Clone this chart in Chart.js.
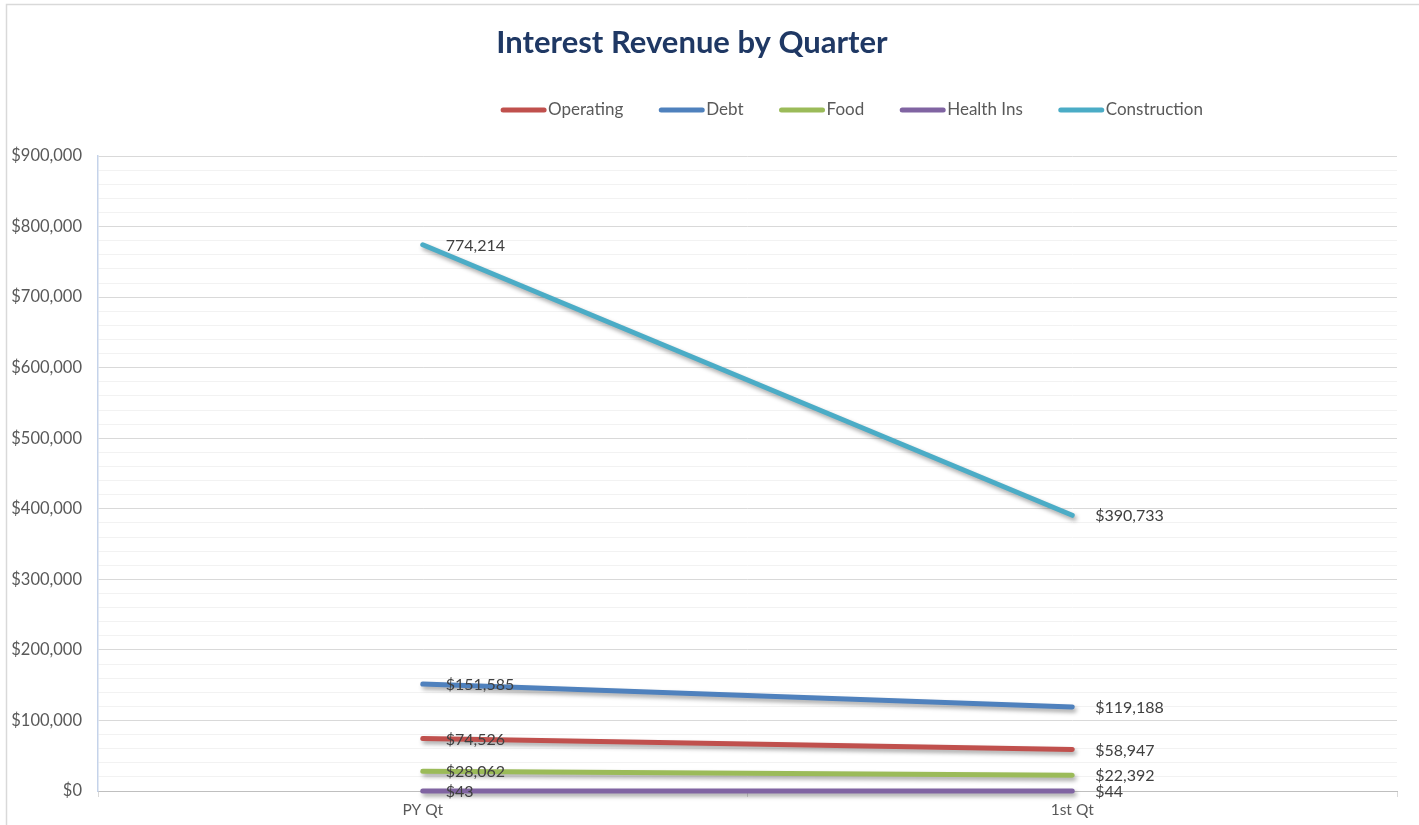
<!DOCTYPE html>
<html lang="en">

<head>
    <meta charset="UTF-8">
    <title>Interest Revenue by Quarter</title>
    <script src="https://cdn.jsdelivr.net/npm/chart.js"></script>
    <style>
        body { margin: 0; background: #fff; }
    </style>
</head>

<body>
<canvas id="revenueChart" width="1419" height="825"></canvas>

<script>
    // values
    const categories = ['PY Qt', '1st Qt'];
    const operating = [74526, 58947];
    const debt = [151585, 119188];
    const food = [28062, 22392];
    const healthIns = [43, 44];
    const construction = [774214, 390733];

    const seriesNames = ['Operating', 'Debt', 'Food', 'Health Ins', 'Construction'];
    const seriesValues = [operating, debt, food, healthIns, construction];
    const seriesColors = ['#c0504d', '#4f81bd', '#9bbb59', '#8064a2', '#4bacc6'];
    // the first construction label is shown without the $ sign
    const plainLabels = { 'Construction': [0] };

    const yMax = 900000;
    const yMinorStep = 20000;
    const yMajorStep = 100000;

    const FONT = 'Lato, "Open Sans", sans-serif';
    Chart.defaults.font.family = FONT;
    Chart.defaults.color = '#595959';

    function money(v) {
        return String(v).replace(/\B(?=(\d{3})+(?!\d))/g, ',');
    }

    // frame, title and legend
    const decorPlugin = {
        id: 'decor',
        beforeDraw(chart) {
            const ctx = chart.ctx;
            ctx.save();
            ctx.strokeStyle = '#d9d9d9';
            ctx.lineWidth = 1.5;
            ctx.strokeRect(6.5, 4.5, chart.width + 10, chart.height + 10);
            ctx.restore();
        },
        afterDraw(chart) {
            const ctx = chart.ctx;
            ctx.save();
            ctx.fillStyle = '#1f3864';
            ctx.font = 'bold 31px ' + FONT;
            ctx.textAlign = 'center';
            ctx.textBaseline = 'middle';
            ctx.fillText('Interest Revenue by Quarter', 692, 43);

            // legend
            ctx.font = '17px ' + FONT;
            const lineLen = 45, textGap = 2, itemGap = 36;
            const widths = seriesNames.map(n => ctx.measureText(n).width);
            const total = widths.reduce((a, w) => a + lineLen + textGap + w, 0) + itemGap * (seriesNames.length - 1);
            let x = 852 - total / 2;
            const y = 110;
            ctx.textAlign = 'left';
            ctx.lineCap = 'round';
            seriesNames.forEach((name, i) => {
                ctx.strokeStyle = seriesColors[i];
                ctx.lineWidth = 5;
                ctx.beginPath();
                ctx.moveTo(x + 2, y);
                ctx.lineTo(x + lineLen - 2, y);
                ctx.stroke();
                ctx.fillStyle = '#595959';
                ctx.fillText(name, x + lineLen + textGap, y);
                x += lineLen + textGap + widths[i] + itemGap;
            });

            // data labels
            ctx.font = '16px ' + FONT;
            ctx.fillStyle = '#404040';
            chart.data.datasets.forEach((ds, di) => {
                const meta = chart.getDatasetMeta(di);
                meta.data.forEach((pt, i) => {
                    const plain = (plainLabels[ds.label] || []).includes(i);
                    const txt = (plain ? '' : '$') + money(ds.data[i]);
                    ctx.fillText(txt, pt.x + 23, pt.y + 1);
                });
            });
            ctx.restore();
        }
    };

    // soft drop shadow under the lines
    const shadowPlugin = {
        id: 'lineShadow',
        beforeDatasetDraw(chart) {
            const ctx = chart.ctx;
            ctx.save();
            ctx.shadowColor = 'rgba(0, 0, 0, 0.35)';
            ctx.shadowBlur = 4;
            ctx.shadowOffsetX = 2;
            ctx.shadowOffsetY = 3;
        },
        afterDatasetDraw(chart) {
            chart.ctx.restore();
        }
    };

    new Chart(document.getElementById('revenueChart'), {
        type: 'line',
        data: {
            labels: categories,
            datasets: seriesNames.map((name, i) => ({
                label: name,
                data: seriesValues[i],
                borderColor: seriesColors[i],
                backgroundColor: seriesColors[i],
                borderWidth: 5,
                borderCapStyle: 'round',
                pointRadius: 0,
                tension: 0,
                clip: false
            }))
        },
        options: {
            responsive: false,
            animation: false,
            layout: { padding: { top: 156, right: 22, left: 0, bottom: 0 } },
            plugins: {
                legend: { display: false },
                title: { display: false },
                tooltip: { enabled: false }
            },
            scales: {
                x: {
                    offset: true,
                    grid: {
                        offset: true,
                        drawOnChartArea: false,
                        drawTicks: true,
                        tickLength: 6,
                        color: '#d9d9d9'
                    },
                    border: { color: '#bfbfbf', width: 1 },
                    ticks: { font: { size: 15.5 }, color: '#595959', padding: 4 },
                    afterFit(scale) { scale.height = 34; }
                },
                y: {
                    min: 0,
                    max: yMax,
                    border: { color: '#c5d3ea', width: 1.5 },
                    grid: {
                        drawTicks: false,
                        color: ctx => (ctx.tick && ctx.tick.value % yMajorStep === 0) ? '#d9d9d9' : '#f2f2f2'
                    },
                    ticks: {
                        stepSize: yMinorStep,
                        maxTicksLimit: 100,
                        autoSkip: false,
                        padding: 16,
                        font: { size: 16.5 },
                        color: '#595959',
                        callback: v => v % yMajorStep === 0 ? '$' + money(v) : ''
                    },
                    afterFit(scale) { scale.width = 98; }
                }
            }
        },
        plugins: [shadowPlugin, decorPlugin]
    });
</script>
</body>

</html>
